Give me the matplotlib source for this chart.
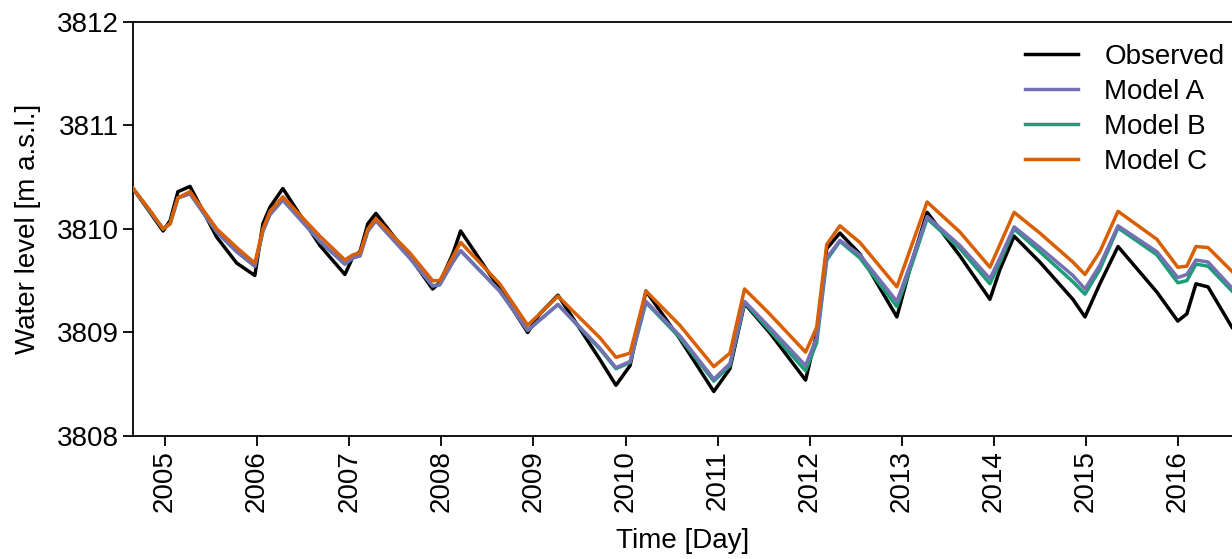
import matplotlib
matplotlib.use("Agg")
import matplotlib.pyplot as plt
import matplotlib.dates as mdates
import pandas as pd

plt.rcParams['font.family'] = ['Liberation Sans', 'DejaVu Sans']

# Stützpunkte
dates = pd.to_datetime([
    "2004-08-27", "2004-11-02", "2004-12-24", "2005-01-21", "2005-02-21", "2005-04-10",
    "2005-07-25", "2005-10-12", "2005-12-23", "2006-01-24", "2006-02-21", "2006-04-13",
    "2006-09-07", "2006-12-15", "2007-01-16", "2007-02-13", "2007-03-16", "2007-04-17",
    "2007-08-29", "2007-11-28", "2007-12-26", "2008-02-16", "2008-03-18", "2008-08-20",
    "2008-12-09", "2009-01-26", "2009-04-08", "2009-09-21", "2009-11-24", "2010-01-19",
    "2010-03-23", "2010-08-04", "2010-12-17", "2011-02-19", "2011-04-18", "2011-07-26",
    "2011-12-16", "2012-01-29", "2012-03-09", "2012-04-30", "2012-07-18", "2012-12-12",
    "2013-02-10", "2013-04-11", "2013-08-19", "2013-12-16", "2014-01-25", "2014-03-22",
    "2014-07-02", "2014-11-10", "2014-12-28", "2015-02-25", "2015-05-08", "2015-10-09",
    "2015-12-31", "2016-02-05", "2016-03-12", "2016-04-29", "2016-08-02",
])

observed = [
    3810.39, 3810.16, 3809.98, 3810.08, 3810.36, 3810.41,
    3809.92, 3809.67, 3809.55, 3810.05, 3810.21, 3810.39,
    3809.84, 3809.56, 3809.73, 3809.78, 3810.05, 3810.15,
    3809.73, 3809.42, 3809.48, 3809.76, 3809.98, 3809.42,
    3809.00, 3809.18, 3809.36, 3808.74, 3808.49, 3808.68,
    3809.40, 3808.94, 3808.43, 3808.65, 3809.28, 3809.00,
    3808.54, 3808.99, 3809.81, 3809.96, 3809.76, 3809.15,
    3809.69, 3810.16, 3809.74, 3809.32, 3809.61, 3809.93,
    3809.68, 3809.32, 3809.15, 3809.47, 3809.83, 3809.39,
    3809.11, 3809.18, 3809.47, 3809.44, 3809.05,
]

model_a = [
    3810.39, 3810.17, 3810.00, 3810.05, 3810.30, 3810.34,
    3809.97, 3809.78, 3809.64, 3809.98, 3810.14, 3810.28,
    3809.88, 3809.66, 3809.72, 3809.74, 3809.98, 3810.08,
    3809.72, 3809.45, 3809.46, 3809.68, 3809.79, 3809.40,
    3809.02, 3809.12, 3809.27, 3808.85, 3808.66, 3808.72,
    3809.30, 3808.97, 3808.55, 3808.70, 3809.30, 3809.05,
    3808.68, 3808.95, 3809.72, 3809.89, 3809.75, 3809.30,
    3809.70, 3810.12, 3809.84, 3809.52, 3809.72, 3810.02,
    3809.82, 3809.55, 3809.42, 3809.65, 3810.03, 3809.78,
    3809.53, 3809.56, 3809.70, 3809.68, 3809.43,
]

model_b = [
    3810.39, 3810.17, 3810.00, 3810.05, 3810.30, 3810.34,
    3809.97, 3809.78, 3809.64, 3809.98, 3810.14, 3810.28,
    3809.88, 3809.66, 3809.72, 3809.74, 3809.98, 3810.08,
    3809.72, 3809.45, 3809.46, 3809.68, 3809.79, 3809.40,
    3809.02, 3809.12, 3809.27, 3808.84, 3808.65, 3808.71,
    3809.29, 3808.95, 3808.53, 3808.68, 3809.29, 3809.02,
    3808.63, 3808.90, 3809.70, 3809.88, 3809.72, 3809.25,
    3809.66, 3810.10, 3809.81, 3809.47, 3809.68, 3810.00,
    3809.78, 3809.49, 3809.37, 3809.61, 3810.01, 3809.75,
    3809.48, 3809.50, 3809.66, 3809.64, 3809.40,
]

model_c = [
    3810.39, 3810.18, 3810.00, 3810.05, 3810.30, 3810.36,
    3810.00, 3809.82, 3809.67, 3810.00, 3810.17, 3810.31,
    3809.93, 3809.70, 3809.75, 3809.77, 3810.00, 3810.10,
    3809.77, 3809.50, 3809.50, 3809.73, 3809.87, 3809.47,
    3809.07, 3809.18, 3809.35, 3808.95, 3808.76, 3808.80,
    3809.40, 3809.07, 3808.67, 3808.80, 3809.42, 3809.18,
    3808.81, 3809.05, 3809.85, 3810.03, 3809.87, 3809.44,
    3809.85, 3810.26, 3809.97, 3809.63, 3809.85, 3810.16,
    3809.96, 3809.68, 3809.56, 3809.78, 3810.17, 3809.90,
    3809.63, 3809.64, 3809.83, 3809.82, 3809.59,
]

fig = plt.figure(figsize=(12.32, 5.59), dpi=100)
ax = fig.add_axes([0.108, 0.22, 0.892, 0.741])

lw = 2.5
l_obs, = ax.plot(dates, observed, color='black', lw=lw, label='Observed', zorder=2)
l_b, = ax.plot(dates, model_b, color='#1b9e77', lw=lw, label='Model B', zorder=3)
l_a, = ax.plot(dates, model_a, color='#7570b3', lw=lw, label='Model A', zorder=4)
l_c, = ax.plot(dates, model_c, color='#d95f02', lw=lw, label='Model C', zorder=5)

ax.set_xlim(pd.Timestamp("2004-08-27"), pd.Timestamp("2016-08-02"))
ax.set_ylim(3808, 3812)
ax.set_yticks([3808, 3809, 3810, 3811, 3812])
ax.xaxis.set_major_locator(mdates.YearLocator())
ax.xaxis.set_major_formatter(mdates.DateFormatter('%Y'))
ax.tick_params(axis='both', labelsize=20, length=7, width=1.3, pad=3)
ax.tick_params(axis='x', labelrotation=90)
for s in ['left', 'bottom', 'top']:
    ax.spines[s].set_linewidth(1.3)
ax.spines['right'].set_visible(False)

ax.set_xlabel('Time [Day]', fontsize=20, labelpad=12)
ax.set_ylabel('Water level [m a.s.l.]', fontsize=20, labelpad=12)

ax.legend(handles=[l_obs, l_a, l_b, l_c], frameon=False, fontsize=20,
          loc='upper left', bbox_to_anchor=(1025 / 1232, 1 - 44 / 559),
          bbox_transform=fig.transFigure, handlelength=1.9, handletextpad=0.95,
          labelspacing=0.32, borderaxespad=0, borderpad=0)

fig.savefig('out.png', dpi=100)
